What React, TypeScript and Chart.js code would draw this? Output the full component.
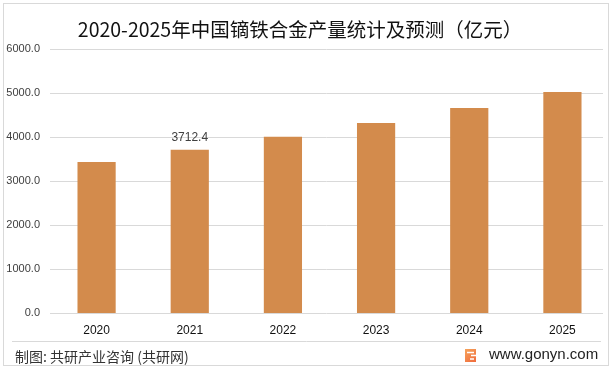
import React, { useEffect, useRef } from "react";
import { Chart, registerables } from "chart.js";

Chart.register(...registerables);

const TITLE = "2020-2025年中国镝铁合金产量统计及预测（亿元）";
const SOURCE = "制图: 共研产业咨询 (共研网)";
const SITE = "www.gonyn.com";
const categories = ["2020", "2021", "2022", "2023", "2024", "2025"];
const values = [3430, 3712.4, 4005, 4318, 4660, 5025];
const labelled = [false, true, false, false, false, false];
const yTicks = [0, 1000, 2000, 3000, 4000, 5000, 6000];

const BAR = "#D38B4C";
const GRID = "#d9d9d9";

const decor = {
  id: "decor",
  beforeDraw(chart: any) {
    const ctx = chart.ctx;
    ctx.save();
    ctx.fillStyle = "#ffffff";
    ctx.fillRect(0, 0, chart.width, chart.height);
    // outer border
    ctx.strokeStyle = GRID;
    ctx.lineWidth = 1;
    ctx.strokeRect(3.5, 3.5, 605, 362);
    // title
    ctx.fillStyle = "#111111";
    ctx.font = '19.5px "Noto Sans CJK SC", sans-serif';
    ctx.textAlign = "center";
    ctx.textBaseline = "middle";
    ctx.fillText(TITLE, 300, 30);
    // separator
    ctx.strokeStyle = GRID;
    ctx.beginPath();
    ctx.moveTo(12, 341.5);
    ctx.lineTo(601, 341.5);
    ctx.stroke();
    // footer
    ctx.fillStyle = "#333333";
    ctx.font = '14px "Noto Sans CJK SC", sans-serif';
    ctx.textAlign = "left";
    ctx.fillText(SOURCE, 15, 357);
    ctx.font = '15px "Liberation Sans", Arial, sans-serif';
    ctx.fillStyle = "#222222";
    ctx.fillText(SITE, 489, 355);
    // logo
    const g = ctx.createLinearGradient(466, 349, 476, 362);
    g.addColorStop(0, "#f5a25a");
    g.addColorStop(1, "#f06a3c");
    ctx.fillStyle = g;
    ctx.fillRect(465, 349, 11, 13);
    ctx.strokeStyle = "#ffffff";
    ctx.lineWidth = 1.5;
    ctx.beginPath();
    ctx.moveTo(467, 352.5);
    ctx.lineTo(474, 352.5);
    ctx.moveTo(471, 355.5);
    ctx.lineTo(476, 355.5);
    ctx.moveTo(470, 359);
    ctx.lineTo(474, 359);
    ctx.stroke();
    // gridlines
    const y = chart.scales.y;
    const area = chart.chartArea;
    ctx.strokeStyle = GRID;
    ctx.lineWidth = 1;
    for (const t of yTicks) {
      const py = Math.round(y.getPixelForValue(t)) + 0.5;
      ctx.beginPath();
      ctx.moveTo(area.left, py);
      ctx.lineTo(603, py);
      ctx.stroke();
    }
    ctx.restore();
  },
  afterDatasetsDraw(chart: any) {
    const ctx = chart.ctx;
    const meta = chart.getDatasetMeta(0);
    ctx.save();
    ctx.fillStyle = "#404040";
    ctx.font = '12px "Liberation Sans", Arial, sans-serif';
    ctx.textAlign = "center";
    ctx.textBaseline = "bottom";
    meta.data.forEach((el: any, i: number) => {
      if (!labelled[i]) return;
      ctx.fillText(values[i].toFixed(1), el.x, el.y - 6);
    });
    ctx.restore();
  },
};

export default function App() {
  const ref = useRef<HTMLCanvasElement>(null);
  useEffect(() => {
    if (!ref.current) return;
    const chart = new Chart(ref.current, {
      type: "bar",
      data: {
        labels: categories,
        datasets: [
          {
            data: values,
            backgroundColor: BAR,
            barPercentage: 0.41,
            categoryPercentage: 1,
          },
        ],
      },
      options: {
        animation: false,
        responsive: false,
        layout: { padding: { left: 0, right: 4, top: 49, bottom: 26 } },
        plugins: { legend: { display: false }, tooltip: { enabled: false }, title: { display: false } },
        scales: {
          x: {
            grid: { display: false, drawTicks: false },
            border: { display: false },
            ticks: {
              color: "#111111",
              font: { size: 12, family: '"Liberation Sans", Arial, sans-serif' },
              padding: 10,
            },
            afterFit: (s: any) => {
              s.height = 30;
            },
          },
          y: {
            min: 0,
            max: 6000,
            grid: { display: false, drawTicks: false },
            border: { display: false },
            ticks: {
              stepSize: 1000,
              color: "#404040",
              font: { size: 11, family: '"Liberation Sans", Arial, sans-serif' },
              padding: 10,
              callback: (v: any) => Number(v).toFixed(1),
            },
            afterFit: (s: any) => {
              s.width = 50;
            },
          },
        },
      },
      plugins: [decor],
    });
    return () => chart.destroy();
  }, []);
  return (
    <div style={{ position: "absolute", left: 0, top: 0, width: 613, height: 369 }}>
      <canvas ref={ref} width={613} height={369} style={{ display: "block" }} />
    </div>
  );
}
